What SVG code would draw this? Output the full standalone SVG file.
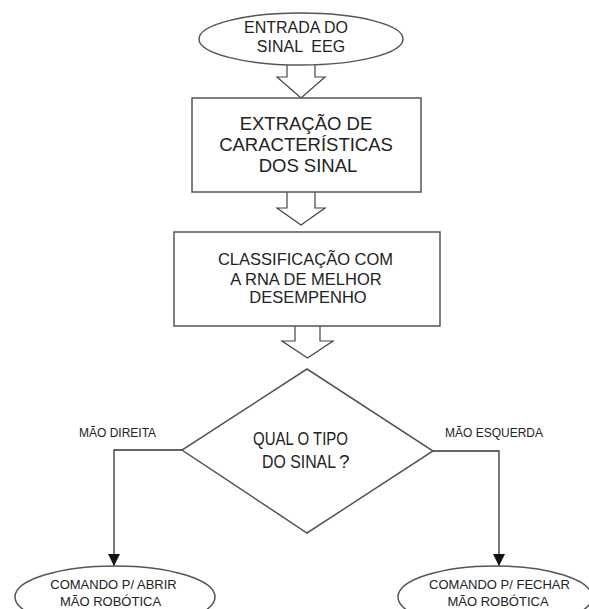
<svg xmlns="http://www.w3.org/2000/svg" width="589" height="609" viewBox="0 0 589 609">
<defs>
<style>
.shape{fill:#fff;stroke:#555;stroke-width:1.5}
.blk{fill:#fff;stroke:#444;stroke-width:1.2}
.line{fill:none;stroke:#333;stroke-width:1.3}
text{font-family:"Liberation Sans",Arial,sans-serif;fill:#222;text-anchor:middle}
.t16{font-size:16px}
.t18{font-size:18.5px}
.t165{font-size:16.5px}
.t13{font-size:13px}
.t12{font-size:12px;text-anchor:start}
</style>
<marker id="ah" markerWidth="12" markerHeight="14" refX="12" refY="7" orient="auto" markerUnits="userSpaceOnUse">
<path d="M0,1 L12,7 L0,13 Z" fill="#111"/>
</marker>
</defs>
<rect width="589" height="609" fill="#fff"/>
<g id="connectors">
<path class="blk" d="M287,65 V77 H277 L301,98 L325,77 H315 V65"/>
<path class="blk" d="M287,192 V208 H277 L301,225 L325,208 H315 V192"/>
<path class="blk" d="M295,326 V341 H282 L307.5,358 L333,341 H320 V326"/>
<polyline class="line" points="182,450 114,450 114,566" marker-end="url(#ah)"/>
<polyline class="line" points="433,451 499,451 499,566" marker-end="url(#ah)"/>
<text class="t12" x="79" y="437">MÃO DIREITA</text>
<text class="t12" x="445" y="437">MÃO ESQUERDA</text>
</g>
<g id="start">
<ellipse class="shape" cx="301" cy="39" rx="102" ry="26"/>
<text class="t16" x="296" y="33">ENTRADA DO</text>
<text class="t16" x="301" y="52" xml:space="preserve">SINAL  EEG</text>
</g>
<g id="extract">
<rect class="shape" x="192" y="98" width="229" height="94"/>
<text class="t18" x="306" y="130">EXTRAÇÃO DE</text>
<text class="t18" x="306" y="151">CARACTERÍSTICAS</text>
<text class="t18" x="308" y="172">DOS SINAL</text>
</g>
<g id="classify">
<rect class="shape" x="174" y="232" width="266" height="94"/>
<text class="t165" x="305.5" y="265">CLASSIFICAÇÃO COM</text>
<text class="t165" x="306" y="285">A RNA DE MELHOR</text>
<text class="t165" x="308" y="303">DESEMPENHO</text>
</g>
<g id="decision">
<polygon class="shape" points="307,369 433,451 307,533 182,450"/>
<text x="300.5" y="445" font-size="17.5" textLength="95" lengthAdjust="spacingAndGlyphs">QUAL O TIPO</text>
<text x="262" y="468" font-size="17.5" style="text-anchor:start"><tspan textLength="74" lengthAdjust="spacingAndGlyphs">DO SINAL</tspan><tspan dx="3" font-size="19">?</tspan></text>
</g>
<g id="open">
<ellipse class="shape" cx="115" cy="597" rx="100" ry="31"/>
<text class="t13" x="113.5" y="589">COMANDO P/ ABRIR</text>
<text class="t13" x="110.5" y="606">MÃO ROBÓTICA</text>
</g>
<g id="close">
<ellipse class="shape" cx="495" cy="597" rx="97" ry="31"/>
<text class="t13" x="499.5" y="589">COMANDO P/ FECHAR</text>
<text class="t13" x="498" y="606">MÃO ROBÓTICA</text>
</g>
</svg>
